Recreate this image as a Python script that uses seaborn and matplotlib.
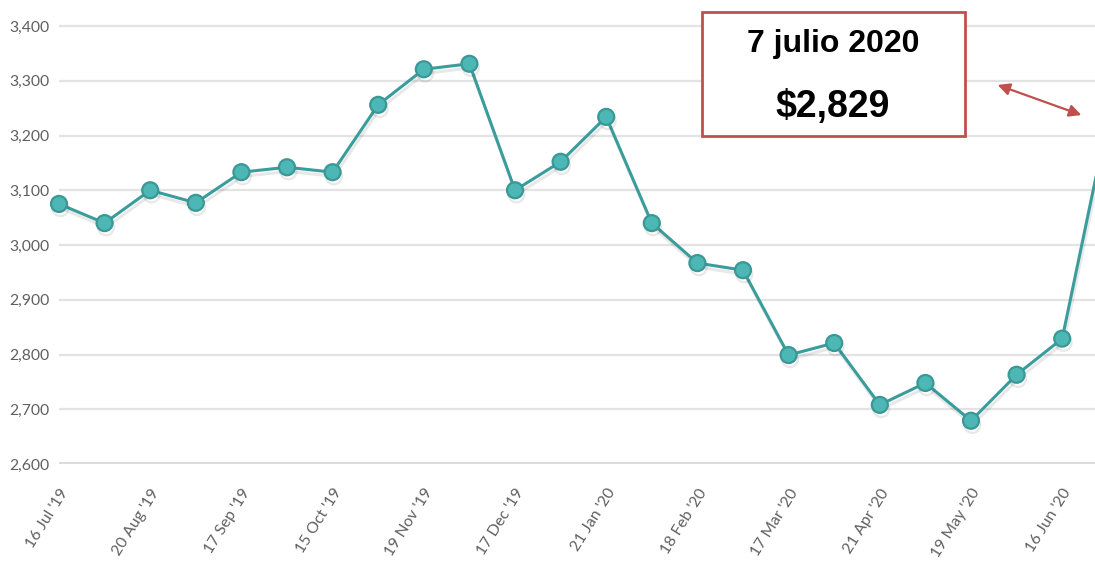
import matplotlib
matplotlib.use("Agg")
import matplotlib.pyplot as plt
import matplotlib.patheffects as pe
from matplotlib.patches import Rectangle, FancyArrowPatch
import seaborn as sns
import pandas as pd

# weekly-ish price points (last one is cut by the right edge)
prices = [3075, 3040, 3100, 3077, 3133, 3142, 3133, 3256, 3321, 3331,
          3100, 3152, 3234, 3040, 2967, 2954, 2799, 2821, 2708, 2748,
          2679, 2763, 2829, 3228]
tick_labels = ["16 Jul '19", "20 Aug '19", "17 Sep '19", "15 Oct '19",
               "19 Nov '19", "17 Dec '19", "21 Jan '20", "18 Feb '20",
               "17 Mar '20", "21 Apr '20", "19 May '20", "16 Jun '20"]
y_ticks = [2600, 2700, 2800, 2900, 3000, 3100, 3200, 3300, 3400]
box_date = "7 julio 2020"
box_price = "$2,829"

df = pd.DataFrame({"idx": range(len(prices)), "price": prices})

sns.set_theme(style="white")
plt.rcParams["font.family"] = ["Lato", "DejaVu Sans"]

fig = plt.figure(figsize=(10.95, 5.61), dpi=100)
ax = fig.add_axes([59 / 1095, 1 - 464 / 561, 1 - 59 / 1095, 464 / 561])

for v in y_ticks:
    ax.axhline(v, color="#e3e3e3" if v > 2600 else "#dcdcdc",
               lw=1.6 if v > 2600 else 3, zorder=0)

line_color = "#3a9d9b"
sns.lineplot(data=df, x="idx", y="price", ax=ax, color=line_color, lw=2.2,
             marker="o", markersize=11.5, markerfacecolor="#4cb7b4",
             markeredgecolor="#3a9896", markeredgewidth=1.6, clip_on=False,
             path_effects=[pe.SimpleLineShadow(offset=(1, -3), shadow_color="#000000",
                                               alpha=0.09), pe.Normal()])

ax.set_xlim(0, (1095 - 59) / 45.6)
ax.set_ylim(2600, 3400 + 26 / 54.75 * 100)
ax.set_yticks(y_ticks)
ax.set_yticklabels([f"{v:,}" for v in y_ticks])
ax.set_xticks(range(0, 24, 2))
ax.set_xticklabels(tick_labels, rotation=58, ha="right", rotation_mode="anchor")
ax.tick_params(axis="both", colors="#666666", labelsize=11.3, length=0)
ax.tick_params(axis="x", pad=16)
ax.tick_params(axis="y", pad=7)
for lbl in ax.get_xticklabels() + ax.get_yticklabels():
    lbl.set_color("#606060")
ax.set_xlabel("")
ax.set_ylabel("")
sns.despine(ax=ax, left=True, bottom=True)

# annotation box
fig.patches.append(Rectangle((702 / 1095, 1 - 136 / 561), 263 / 1095, 124 / 561,
                             transform=fig.transFigure, facecolor="white",
                             edgecolor="#c0504d", lw=2, zorder=5))
fig.text(833 / 1095, 1 - 44 / 561, box_date, ha="center", va="center", color="black",
         fontsize=23, fontweight="bold", family="Liberation Sans", zorder=6)
fig.text(833 / 1095, 1 - 107 / 561, box_price, ha="center", va="center", color="black",
         fontsize=27, fontweight="bold", family="Liberation Sans", zorder=6)
fig.patches.append(FancyArrowPatch((995 / 1095, 1 - 84 / 561), (1084 / 1095, 1 - 116 / 561),
                                   transform=fig.transFigure, arrowstyle="<|-|>",
                                   mutation_scale=18, color="#c0504d", lw=1.6, zorder=5))

fig.savefig("out.png", dpi=100)
